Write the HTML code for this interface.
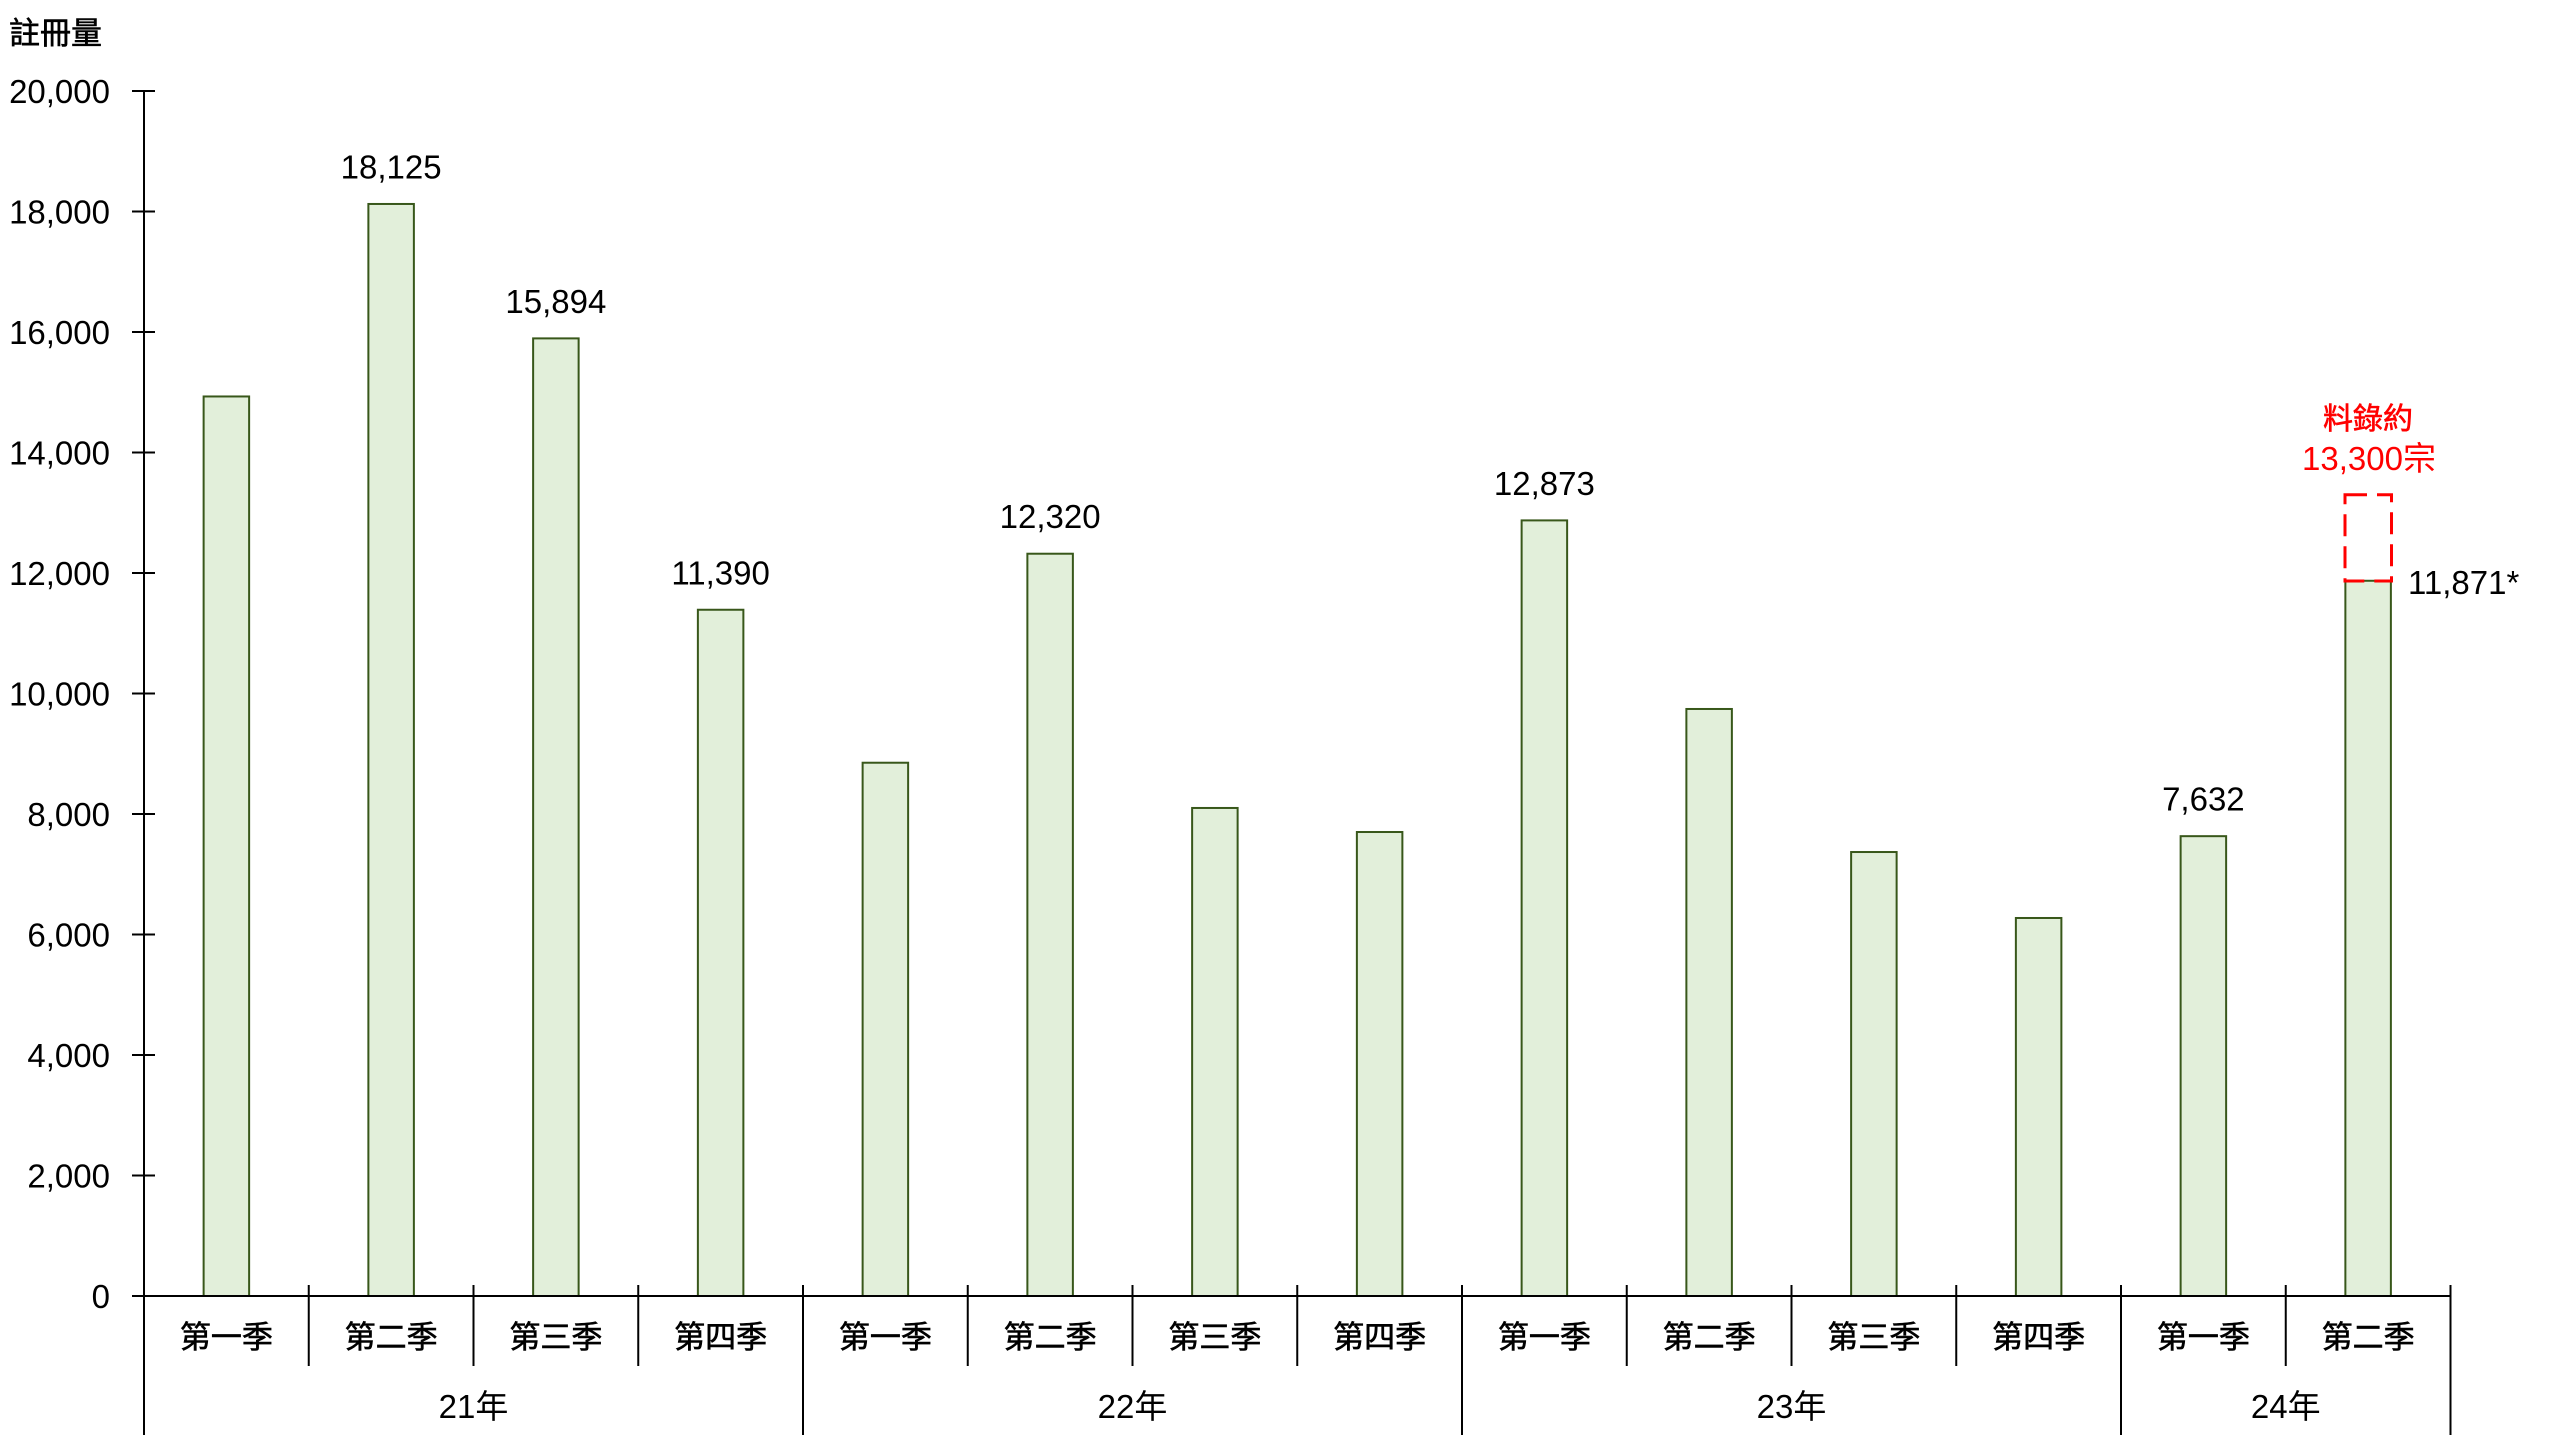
<!DOCTYPE html>
<html>
<head>
<meta charset="utf-8">
<style>
  html,body{margin:0;padding:0;background:#fff;}
  svg{display:block;}
  .num{font-family:"Liberation Sans","Noto Sans CJK TC",sans-serif;font-size:33px;fill:#000;}
  .cjk{font-family:"Liberation Sans","Noto Sans CJK TC",sans-serif;font-size:31px;fill:#000;stroke:#000;stroke-width:0.6px;}
  .red{fill:#ff0000;}
  .cjk.red{stroke:#ff0000;}
</style>
</head>
<body>
<svg width="2560" height="1440" viewBox="0 0 2560 1440" xmlns="http://www.w3.org/2000/svg">
  <rect width="2560" height="1440" fill="#fff"/>
  <!-- title -->
  <text class="cjk" x="9" y="44">註冊量</text>

  <!-- y labels -->
  <g class="num" text-anchor="end">
    <text x="110" y="103">20,000</text>
    <text x="110" y="223.5">18,000</text>
    <text x="110" y="344">16,000</text>
    <text x="110" y="464.5">14,000</text>
    <text x="110" y="585">12,000</text>
    <text x="110" y="705.5">10,000</text>
    <text x="110" y="826">8,000</text>
    <text x="110" y="946.5">6,000</text>
    <text x="110" y="1067">4,000</text>
    <text x="110" y="1187.5">2,000</text>
    <text x="110" y="1308">0</text>
  </g>

  <!-- bars -->
  <g fill="#E2EFDA" stroke="#38571A" stroke-width="2">
    <rect x="203.625" y="396.47" width="45.5" height="899.53"/>
    <rect x="368.375" y="203.97" width="45.5" height="1092.03"/>
    <rect x="533.125" y="338.39" width="45.5" height="957.61"/>
    <rect x="697.875" y="609.75" width="45.5" height="686.25"/>
    <rect x="862.625" y="762.73" width="45.5" height="533.27"/>
    <rect x="1027.375" y="553.72" width="45.5" height="742.28"/>
    <rect x="1192.125" y="807.97" width="45.5" height="488.03"/>
    <rect x="1356.875" y="832.01" width="45.5" height="463.99"/>
    <rect x="1521.625" y="520.40" width="45.5" height="775.60"/>
    <rect x="1686.375" y="708.98" width="45.5" height="587.02"/>
    <rect x="1851.125" y="852.02" width="45.5" height="443.98"/>
    <rect x="2015.875" y="917.99" width="45.5" height="378.01"/>
    <rect x="2180.625" y="836.17" width="45.5" height="459.83"/>
    <rect x="2345.375" y="580.77" width="45.5" height="715.23"/>
  </g>

  <!-- red dashed estimate box -->
  <rect x="2345" y="494.7" width="46.5" height="86.3" fill="none" stroke="#ff0000" stroke-width="3" stroke-dasharray="22 10"/>

  <!-- value labels -->
  <g class="num" text-anchor="middle">
    <text x="391.125" y="178.5">18,125</text>
    <text x="555.875" y="312.9">15,894</text>
    <text x="720.625" y="584.3">11,390</text>
    <text x="1050.125" y="528.2">12,320</text>
    <text x="1544.375" y="494.9">12,873</text>
    <text x="2203.375" y="810.7">7,632</text>
  </g>
  <text class="num" x="2408" y="594">11,871*</text>

  <!-- red annotation -->
  <text class="cjk red" x="2368" y="429" text-anchor="middle" style="font-size:30px">料錄約</text>
  <text class="num red" x="2369" y="470" text-anchor="middle">13,300宗</text>

  <!-- axes -->
  <g stroke="#000" stroke-width="2" fill="none">
    <line x1="144" y1="90" x2="144" y2="1435"/>
    <line x1="132" y1="91" x2="155" y2="91"/>
    <line x1="132" y1="211.5" x2="155" y2="211.5"/>
    <line x1="132" y1="332" x2="155" y2="332"/>
    <line x1="132" y1="452.5" x2="155" y2="452.5"/>
    <line x1="132" y1="573" x2="155" y2="573"/>
    <line x1="132" y1="693.5" x2="155" y2="693.5"/>
    <line x1="132" y1="814" x2="155" y2="814"/>
    <line x1="132" y1="934.5" x2="155" y2="934.5"/>
    <line x1="132" y1="1055" x2="155" y2="1055"/>
    <line x1="132" y1="1175.5" x2="155" y2="1175.5"/>
    <line x1="132" y1="1296" x2="2451.5" y2="1296"/>
    <line x1="308.75" y1="1285" x2="308.75" y2="1366"/>
    <line x1="473.5" y1="1285" x2="473.5" y2="1366"/>
    <line x1="638.25" y1="1285" x2="638.25" y2="1366"/>
    <line x1="967.75" y1="1285" x2="967.75" y2="1366"/>
    <line x1="1132.5" y1="1285" x2="1132.5" y2="1366"/>
    <line x1="1297.25" y1="1285" x2="1297.25" y2="1366"/>
    <line x1="1626.75" y1="1285" x2="1626.75" y2="1366"/>
    <line x1="1791.5" y1="1285" x2="1791.5" y2="1366"/>
    <line x1="1956.25" y1="1285" x2="1956.25" y2="1366"/>
    <line x1="2285.75" y1="1285" x2="2285.75" y2="1366"/>
    <line x1="803" y1="1285" x2="803" y2="1435"/>
    <line x1="1462" y1="1285" x2="1462" y2="1435"/>
    <line x1="2121" y1="1285" x2="2121" y2="1435"/>
    <line x1="2450.5" y1="1285" x2="2450.5" y2="1435"/>
  </g>

  <!-- category labels -->
  <g class="cjk" text-anchor="middle">
    <text x="226.375" y="1348">第一季</text>
    <text x="391.125" y="1348">第二季</text>
    <text x="555.875" y="1348">第三季</text>
    <text x="720.625" y="1348">第四季</text>
    <text x="885.375" y="1348">第一季</text>
    <text x="1050.125" y="1348">第二季</text>
    <text x="1214.875" y="1348">第三季</text>
    <text x="1379.625" y="1348">第四季</text>
    <text x="1544.375" y="1348">第一季</text>
    <text x="1709.125" y="1348">第二季</text>
    <text x="1873.875" y="1348">第三季</text>
    <text x="2038.625" y="1348">第四季</text>
    <text x="2203.375" y="1348">第一季</text>
    <text x="2368.125" y="1348">第二季</text>
  </g>

  <!-- year labels -->
  <g class="num" text-anchor="middle">
    <text x="473.5" y="1418">21年</text>
    <text x="1132.5" y="1418">22年</text>
    <text x="1791.5" y="1418">23年</text>
    <text x="2285.75" y="1418">24年</text>
  </g>
</svg>
</body>
</html>
